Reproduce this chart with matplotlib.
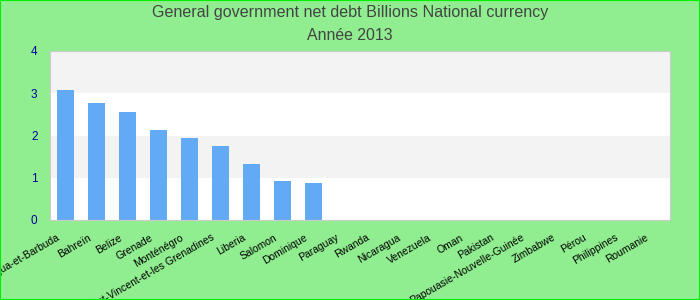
import numpy as np
import matplotlib
matplotlib.use("Agg")
import matplotlib.pyplot as plt
import matplotlib.transforms as mtransforms
from matplotlib.patches import Rectangle

# ---- data ----
countries = ["Antigua-et-Barbuda", "Bahreïn", "Belize", "Grenade", "Monténégro",
             "Saint-Vincent-et-les Grenadines", "Liberia", "Salomon", "Dominique",
             "Paraguay", "Rwanda", "Nicaragua", "Venezuela", "Oman", "Pakistan",
             "Papouasie-Nouvelle-Guinée", "Zimbabwe", "Pérou", "Philippines", "Roumanie"]
debt = [3.08, 2.77, 2.56, 2.13, 1.94, 1.75, 1.33, 0.92, 0.88,
        0, 0, 0, 0, 0, 0, 0, 0, 0, 0, 0]
yticks = [0, 1, 2, 3, 4]

BG = "#90EE90"
BAR = "#63aaf5"
TICK = "#000099"

plt.rcParams["font.family"] = ["Liberation Sans", "DejaVu Sans"]

fig = plt.figure(figsize=(7, 3), dpi=100, facecolor=BG)
ax = fig.add_axes([50 / 700, 80 / 300, 620 / 700, 169 / 300])
ax.set_facecolor("white")

# alternating bands
for lo in yticks[1::2]:
    ax.axhspan(lo, lo + 1, color="#f3f3f3", zorder=0, lw=0)

x = np.arange(len(countries))
ax.bar(x, debt, width=0.55, color=BAR, zorder=2)
ax.set_xlim(-0.5, len(countries) - 0.5)
ax.set_ylim(0, 4)
ax.set_yticks(yticks)
ax.tick_params(axis="y", length=0, colors=TICK, labelsize=8.5, pad=9)
ax.set_xticks(x)
ax.set_xticklabels(countries, rotation=30, ha="right", rotation_mode="anchor",
                   fontsize=7.5)
ax.tick_params(axis="x", length=0, pad=9)
shift = mtransforms.ScaledTranslation(-9 / 100, 0, fig.dpi_scale_trans)
for lab in ax.get_xticklabels():
    lab.set_transform(lab.get_transform() + shift)
for s in ax.spines.values():
    s.set_color("#cccccc")

fig.text(0.5, 1 - 12 / 300, "General government net debt Billions National currency",
         ha="center", va="center", fontsize=11.6, color="#444444")
fig.text(0.5, 1 - 35 / 300, "Année 2013", ha="center", va="center",
         fontsize=11.4, color="#444444")

fig.add_artist(Rectangle((0, 0), 1, 1, transform=fig.transFigure, fill=False,
                         edgecolor="#00ee00", lw=1.5))

fig.savefig("out.png", dpi=100, facecolor=BG)
